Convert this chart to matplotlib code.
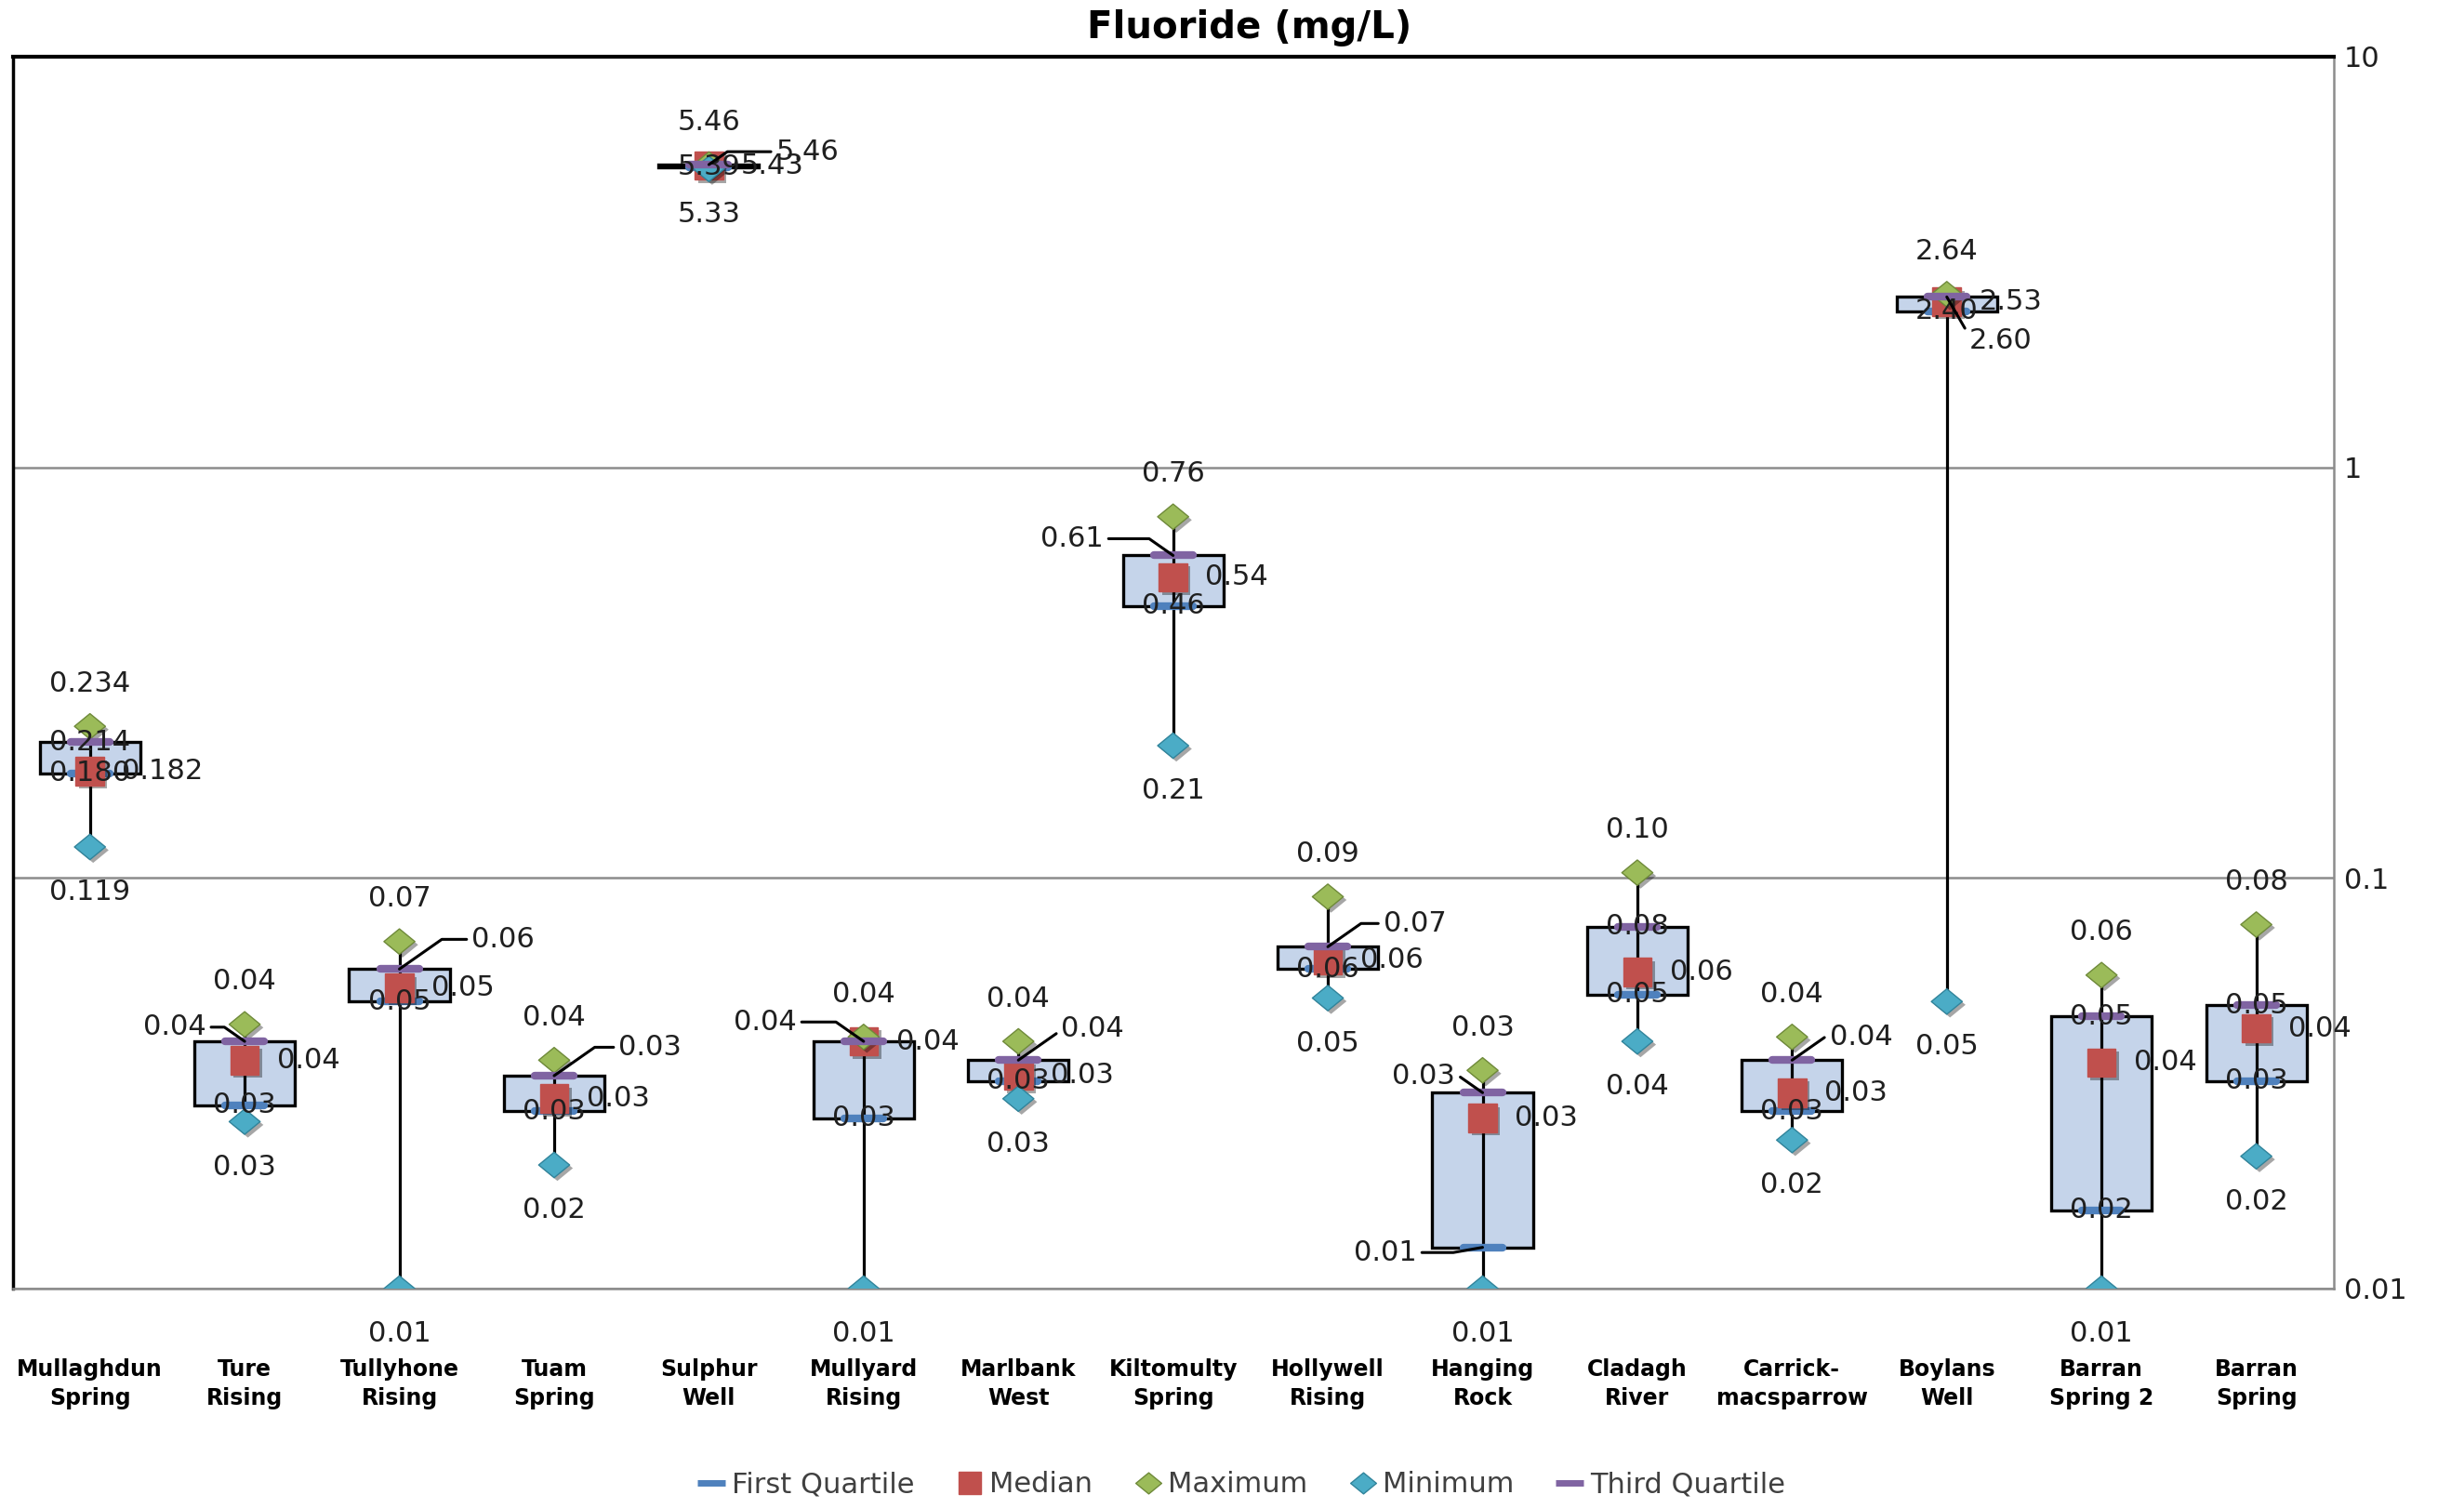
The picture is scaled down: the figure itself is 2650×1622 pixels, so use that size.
"""
Fluoride box summary per spring, log scale
"""
import matplotlib
matplotlib.use("Agg")
import matplotlib.pyplot as plt
import matplotlib.patheffects as pe
from matplotlib.path import Path
from matplotlib.lines import Line2D
from matplotlib.markers import MarkerStyle
from matplotlib.ticker import NullLocator
import numpy as np

sites = ["Mullaghdun\nSpring", "Ture\nRising", "Tullyhone\nRising", "Tuam\nSpring",
         "Sulphur\nWell", "Mullyard\nRising", "Marlbank\nWest", "Kiltomulty\nSpring",
         "Hollywell\nRising", "Hanging\nRock", "Cladagh\nRiver", "Carrick-\nmacsparrow",
         "Boylans\nWell", "Barran\nSpring 2", "Barran\nSpring"]
minimum = [0.119, 0.0255, 0.010, 0.020, 5.33, 0.010, 0.029, 0.21, 0.051, 0.010,
           0.040, 0.023, 0.050, 0.010, 0.021]
first_q = [0.180, 0.028, 0.050, 0.027, 5.39, 0.026, 0.032, 0.46, 0.060, 0.0126,
           0.052, 0.027, 2.40, 0.0155, 0.032]
median = [0.182, 0.036, 0.054, 0.029, 5.43, 0.040, 0.033, 0.54, 0.063, 0.026,
          0.059, 0.030, 2.53, 0.0355, 0.043]
third_q = [0.214, 0.040, 0.060, 0.033, 5.46, 0.040, 0.036, 0.61, 0.068, 0.030,
           0.076, 0.036, 2.60, 0.046, 0.049]
maximum = [0.234, 0.044, 0.070, 0.036, 5.46, 0.041, 0.040, 0.758, 0.090, 0.034,
           0.103, 0.041, 2.64, 0.058, 0.077]
decimals = [3] + [2] * 14

# label placement: (side, dx, dy) in points; "c" = on the mark, "r"/"l" = leader line
q3_place = [("c", 0, 0), ("l", -30, 11), ("r", 56, 23), ("r", 50, 22), ("r", 52, 10),
            ("l", -52, 15), ("r", 33, 24), ("l", -54, 13), ("r", 43, 18), ("l", -21, 13),
            ("c", 0, 0), ("r", 29, 18), ("rd", 17, -34), ("c", 0, 0), ("c", 0, 0)]
q1_place = [("c", 0, 0)] * 9 + [("ld", -51, -4)] + [("c", 0, 0)] * 5

BOX = "#C5D4EA"
C_Q1 = "#4F81BD"
C_MED = "#C0504D"
C_MAX = "#9BBB59"
C_MIN = "#4BACC6"
C_Q3 = "#8064A2"
GRID = "#8C8C8C"
TXT = "#1F1F1F"

plt.rcParams["font.family"] = ["DejaVu Sans"]

diamond = Path([(-1, 0), (0, 0.82), (1, 0), (0, -0.82), (-1, 0)],
               [Path.MOVETO, Path.LINETO, Path.LINETO, Path.LINETO, Path.CLOSEPOLY])
dash = MarkerStyle("_", capstyle="round")
shadow = [pe.SimplePatchShadow(offset=(2.5, -2.5), alpha=0.35, shadow_rgbFace="black"),
          pe.Normal()]

fig = plt.figure(figsize=(26.5, 16.22), dpi=100)
ax = fig.add_axes([0.0051, 0.1455, 0.942, 0.8169])
ax.set_yscale("log")
ax.set_ylim(0.01, 10)
xs = np.arange(len(sites))
ax.set_xlim(-0.5, len(sites) - 0.5)

ax.bar(xs, np.array(third_q) - np.array(first_q), bottom=first_q, width=0.65,
       color=BOX, edgecolor="black", linewidth=2.4, zorder=2)
ax.vlines(xs, minimum, maximum, color="black", linewidth=2.3, zorder=3)

ax.plot(xs, first_q, ls="none", marker=dash, ms=30, mew=6, color=C_Q1, zorder=4)
ax.plot(xs, median, ls="none", marker="s", ms=22, color=C_MED, mec=C_MED, zorder=5,
        path_effects=shadow)
ax.plot(xs, maximum, ls="none", marker=diamond, ms=24, color=C_MAX, mec="#6F8A3A",
        mew=1, zorder=6, path_effects=shadow)
ax.plot(xs, minimum, ls="none", marker=diamond, ms=24, color=C_MIN, mec="#31849B",
        mew=1, zorder=7, path_effects=shadow)
ax.plot(xs, third_q, ls="none", marker=dash, ms=30, mew=6, color=C_Q3, zorder=8)

LBL = dict(fontsize=22, color=TXT, zorder=10)
ANGLES = {"r": 35, "l": 145, "rd": -60, "ld": 10}


def put_label(x, y, text, place):
    side, dx, dy = place
    if side == "c":
        ax.annotate(text, (x, y), xytext=(dx, dy), textcoords="offset points",
                    ha="center", va="center", **LBL)
        return
    right = side.startswith("r")
    ax.annotate(text, (x, y), xytext=(dx, dy), textcoords="offset points",
                ha="left" if right else "right", va="center",
                arrowprops=dict(arrowstyle="-", color="black", lw=2.2,
                                shrinkA=2, shrinkB=0,
                                relpos=(0, 0.5) if right else (1, 0.5),
                                connectionstyle="angle,angleA=0,angleB=%d,rad=0"
                                % ANGLES[side]),
                **LBL)


for i, x in enumerate(xs):
    fmt = "{:.%df}" % decimals[i]
    ax.annotate(fmt.format(maximum[i]), (x, maximum[i]), xytext=(0, 33),
                textcoords="offset points", ha="center", va="center", **LBL)
    ax.annotate(fmt.format(minimum[i]), (x, minimum[i]), xytext=(0, -35),
                textcoords="offset points", ha="center", va="center",
                annotation_clip=False, **LBL)
    ax.annotate(fmt.format(median[i]), (x, median[i]), xytext=(25, 0),
                textcoords="offset points", ha="left", va="center", **LBL)
    put_label(x, first_q[i], fmt.format(first_q[i]), q1_place[i])
    put_label(x, third_q[i], fmt.format(third_q[i]), q3_place[i])

# axes frame and grid
ax.set_yticks([0.01, 0.1, 1, 10])
ax.set_yticklabels(["0.01", "0.1", "1", "10"])
ax.yaxis.set_minor_locator(NullLocator())
ax.yaxis.tick_right()
ax.tick_params(axis="y", length=0, pad=8, labelsize=22, labelcolor=TXT)
ax.yaxis.grid(True, color=GRID, linewidth=1.8)
ax.set_axisbelow(True)
ax.set_xticks(xs)
ax.set_xticklabels(sites, fontsize=17, fontweight="bold", linespacing=1.35)
ax.tick_params(axis="x", length=0, pad=54)
ax.spines["top"].set_color("black")
ax.spines["top"].set_linewidth(3)
ax.spines["left"].set_color("black")
ax.spines["left"].set_linewidth(2.5)
ax.spines["right"].set_color(GRID)
ax.spines["right"].set_linewidth(1.8)
ax.spines["bottom"].set_color(GRID)
ax.spines["bottom"].set_linewidth(1.8)

fig.text(0.507, 0.9815, "Fluoride (mg/L)", ha="center", va="center",
         fontsize=29, fontweight="bold", color="black")

handles = [
    Line2D([], [], ls="none", marker="_", ms=22, mew=5, color=C_Q1),
    Line2D([], [], ls="none", marker="s", ms=17, color=C_MED),
    Line2D([], [], ls="none", marker=diamond, ms=20, color=C_MAX, mec="#6F8A3A"),
    Line2D([], [], ls="none", marker=diamond, ms=20, color=C_MIN, mec="#31849B"),
    Line2D([], [], ls="none", marker="_", ms=22, mew=5, color=C_Q3),
]
fig.legend(handles, ["First Quartile", "Median", "Maximum", "Minimum", "Third Quartile"],
           loc="center", bbox_to_anchor=(0.504, 0.0155), ncol=5, frameon=False,
           fontsize=22, labelcolor="#404040", handlelength=0.9, handletextpad=0.25,
           columnspacing=1.5)

fig.savefig("out.png", dpi=100)
